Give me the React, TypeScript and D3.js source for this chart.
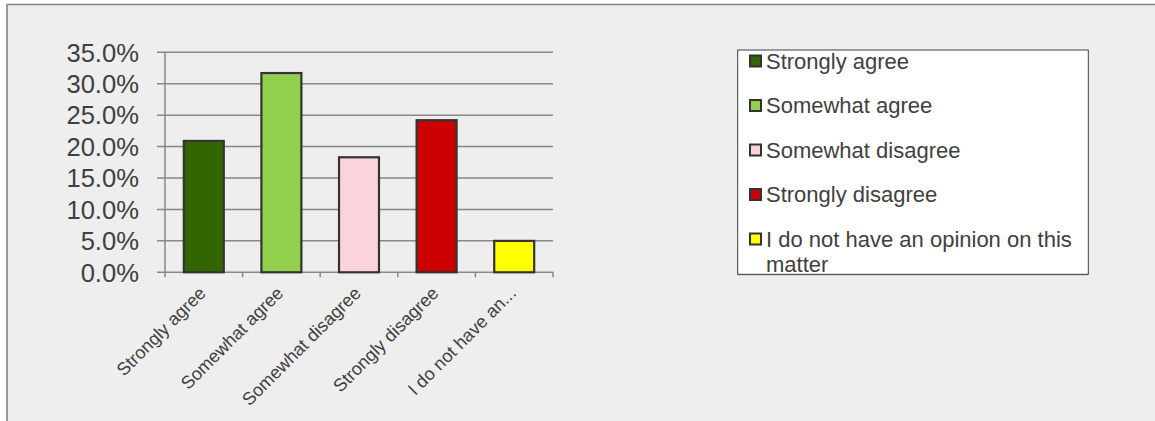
import React from "react";
import * as d3 from "d3";

const categories = [
  "Strongly agree",
  "Somewhat agree",
  "Somewhat disagree",
  "Strongly disagree",
  "I do not have an opinion on this matter",
];
const axisLabels = [
  "Strongly agree",
  "Somewhat agree",
  "Somewhat disagree",
  "Strongly disagree",
  "I do not have an...",
];
const values = [20.9, 31.7, 18.3, 24.2, 5.0];
const colors = ["#336600", "#92D050", "#FAD3DC", "#CC0000", "#FFFF00"];
const yTicks = [0, 5, 10, 15, 20, 25, 30, 35];

const W = 1155;
const H = 421;
const FONT = "'Liberation Sans', Arial, sans-serif";
const TEXT = "#404040";

export default function App() {
  const x0 = 165, x1 = 553, y0 = 272.3, y1 = 52.3;
  const x = d3.scaleBand<string>().domain(categories).range([x0, x1]).paddingInner(0.485).paddingOuter(0.2425);
  const y = d3.scaleLinear().domain([0, 35]).range([y0, y1]);
  const step = x.step();
  const boundaries = d3.range(categories.length + 1).map((i) => x0 + i * step);

  const legX = 737.7, legY = 50, legW = 350.6, legH = 224.3;
  const rowY = [61, 105.5, 150, 194.5, 239];

  return (
    <svg width={W} height={H} style={{ position: "absolute", left: 0, top: 0, display: "block" }} fontFamily={FONT}>
      <rect x={0} y={0} width={W} height={H} fill="#ffffff" />
      <rect x={7} y={4.5} width={W} height={H} fill="#eeeeee" />
      <line x1={6} x2={W} y1={4.5} y2={4.5} stroke="#808080" strokeWidth={1.5} />
      <line x1={7} x2={7} y1={4} y2={H} stroke="#999999" strokeWidth={2} />

      {/* gridlines + y ticks */}
      {yTicks.map((t) => (
        <g key={t}>
          <line x1={157} x2={x1} y1={y(t)} y2={y(t)} stroke="#888888" strokeWidth={1.5} />
          <text x={139} y={y(t) + 9.2} textAnchor="end" fontSize={25.6} fill={TEXT}>
            {t.toFixed(1)}%
          </text>
        </g>
      ))}
      <line x1={x0} x2={x0} y1={y1} y2={y0} stroke="#888888" strokeWidth={1.5} />
      {boundaries.map((b, i) => (
        <line key={i} x1={b} x2={b} y1={y0} y2={y0 + 5} stroke="#888888" strokeWidth={1.5} />
      ))}

      {/* bars */}
      {categories.map((c, i) => (
        <rect
          key={c}
          x={x(c)}
          y={y(values[i])}
          width={x.bandwidth()}
          height={y0 - y(values[i])}
          fill={colors[i]}
          stroke="#333333"
          strokeWidth={2.2}
        />
      ))}

      {/* category labels */}
      {categories.map((c, i) => {
        const cx = (x(c) as number) + x.bandwidth() / 2 + 3;
        const cy = y0 + 22;
        return (
          <text
            key={c}
            x={cx}
            y={cy}
            textAnchor="end"
            fontSize={18}
            fill={TEXT}
            transform={`rotate(-45, ${cx}, ${cy})`}
          >
            {axisLabels[i]}
          </text>
        );
      })}

      {/* legend */}
      <rect x={legX} y={legY + 1} width={legW} height={legH} fill="#999999" />
      <rect x={legX} y={legY} width={legW} height={legH} fill="#ffffff" stroke="#404040" strokeWidth={1} />
      {categories.map((c, i) => {
        const cy = rowY[i];
        if (i === 4) {
          return (
            <g key={c}>
              <rect x={750} y={cy - 5.5} width={11} height={11} fill={colors[i]} stroke="#333333" strokeWidth={2} />
              <text x={766} y={cy + 7.8} fontSize={22} fill={TEXT}>I do not have an opinion on this</text>
              <text x={766} y={cy + 7.8 + 25.5} fontSize={22} fill={TEXT}>matter</text>
            </g>
          );
        }
        return (
          <g key={c}>
            <rect x={750} y={cy - 5.5} width={11} height={11} fill={colors[i]} stroke="#333333" strokeWidth={2} />
            <text x={766} y={cy + 7.8} fontSize={22} fill={TEXT}>{c}</text>
          </g>
        );
      })}
    </svg>
  );
}
